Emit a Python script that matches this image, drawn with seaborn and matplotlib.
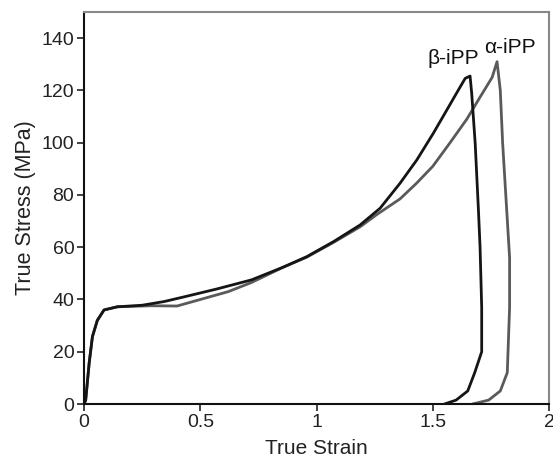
import matplotlib
matplotlib.use("Agg")
import matplotlib.pyplot as plt
import seaborn as sns
import pandas as pd

# beta-iPP (loading then unloading)
beta_strain = [0, 0.007, 0.022, 0.036, 0.057, 0.086, 0.143, 0.25, 0.344, 0.43, 0.57, 0.72, 0.86,
               0.958, 1.072, 1.187, 1.273, 1.359, 1.431, 1.502, 1.56, 1.61, 1.639, 1.66,
               1.667, 1.682, 1.696, 1.703, 1.71, 1.71, 1.68, 1.65, 1.60, 1.55]
beta_stress = [0, 1.5, 15.7, 25.8, 32, 36, 37.2, 37.8, 39.2, 41, 44, 47.5, 52.5,
               56.4, 62.1, 68.5, 74.9, 84.5, 93.4, 103.6, 112.5, 120.2, 124.6, 125.5,
               118.9, 99.8, 74.2, 60, 37, 20, 12, 5, 1.5, 0]

# alpha-iPP (loading then unloading)
alpha_strain = [0, 0.007, 0.022, 0.036, 0.057, 0.086, 0.143, 0.287, 0.40, 0.50, 0.62, 0.72, 0.86,
                0.958, 1.072, 1.187, 1.259, 1.359, 1.43, 1.50, 1.574, 1.646, 1.70, 1.755, 1.776,
                1.79, 1.80, 1.83, 1.83, 1.82, 1.79, 1.74, 1.67]
alpha_stress = [0, 1.5, 15.7, 25.8, 32, 36, 37.2, 37.6, 37.5, 40, 43, 46.5, 52.5,
                56.2, 61.8, 67.8, 72.5, 78.5, 84.5, 91, 100, 109, 117, 125, 131,
                120, 100, 56, 37, 12, 5, 1.5, 0]

x_ticks = [0, 0.5, 1, 1.5, 2]
x_tick_labels = ["0", "0.5", "1", "1.5", "2"]
y_ticks = [0, 20, 40, 60, 80, 100, 120, 140]

sns.set_theme(style="white")
plt.rcParams['font.family'] = ['Liberation Sans', 'DejaVu Sans']

fig = plt.figure(figsize=(5.53, 4.62), dpi=100)
ax = fig.add_axes([0.152, 0.1255, 0.841, 0.8485])

dfa = pd.DataFrame({"strain": alpha_strain, "stress": alpha_stress})
dfb = pd.DataFrame({"strain": beta_strain, "stress": beta_stress})
sns.lineplot(data=dfa, x="strain", y="stress", sort=False, estimator=None,
             color="#5a5a5a", linewidth=2.0, ax=ax)
sns.lineplot(data=dfb, x="strain", y="stress", sort=False, estimator=None,
             color="#151515", linewidth=2.0, ax=ax)

ax.set_xlim(0, 2)
ax.set_ylim(0, 150)
ax.set_xticks(x_ticks)
ax.set_xticklabels(x_tick_labels)
ax.set_yticks(y_ticks)
ax.tick_params(axis="both", which="major", labelsize=14, length=5, width=1.2,
               direction="out", colors="#222222", pad=2)
ax.tick_params(left=True, bottom=True)
ax.set_xlabel("True Strain", fontsize=15, color="#222222", labelpad=6)
ax.set_ylabel("True Stress (MPa)", fontsize=15.5, color="#222222", labelpad=4)

for side in ["left", "bottom"]:
    ax.spines[side].set_color("#111111")
    ax.spines[side].set_linewidth(1.5)
for side in ["top", "right"]:
    ax.spines[side].set_color("#888888")
    ax.spines[side].set_linewidth(1.5)

ax.text(1.59, 132.4, "β-iPP", fontsize=15, ha="center", va="center", color="#111111")
ax.text(1.83, 136.6, "α-iPP", fontsize=15, ha="center", va="center", color="#111111")

fig.savefig("out.png", dpi=100)
